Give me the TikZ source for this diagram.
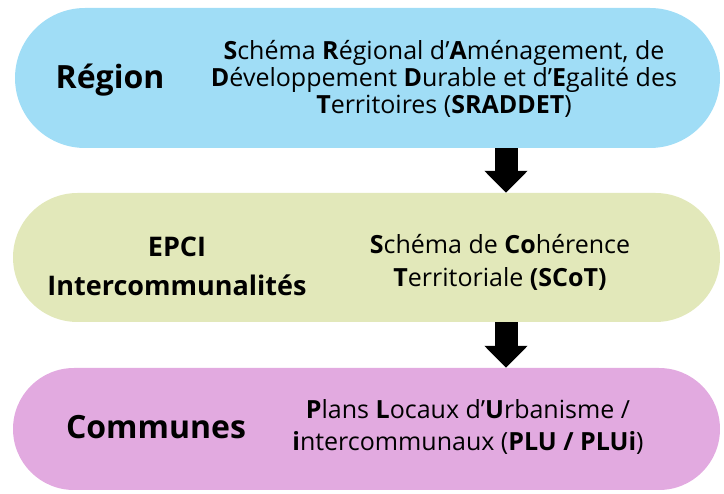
\documentclass[tikz,border=0pt]{standalone}
\usepackage{fontspec}
\setmainfont{Open Sans}
\usetikzlibrary{shapes.misc, arrows.meta}
\definecolor{regionblue}{RGB}{160,221,246}
\definecolor{epcigreen}{RGB}{226,232,186}
\definecolor{communespink}{RGB}{226,170,224}
\tikzstyle{level} = [rounded rectangle, minimum width=707pt, inner sep=0pt]
\tikzstyle{actor} = [font=\bfseries\fontsize{32}{36}\selectfont, align=center]
\tikzstyle{plan} = [font=\fontsize{25}{27}\selectfont, align=center]
\tikzstyle{arrow} = [line width=23pt, -{Triangle[width=42pt,length=22pt]}]

\begin{document}
\begin{tikzpicture}[x=1pt, y=-1pt]
    \useasboundingbox (0,0) rectangle (724,494);
    % Levels
    \node (regionbox) [level, fill=regionblue, minimum height=140pt, minimum width=705pt] at (367.5,78) {};
    \node (epcibox) [level, fill=epcigreen, minimum height=129pt] at (366.5,257.5) {};
    \node (communesbox) [level, fill=communespink, minimum height=122pt] at (366.5,429) {};

    % Labels
    \node (region) [actor] at (110,80) {Région};
    \node (regionplan) [plan] at (444,79) {\textbf{S}chéma \textbf{R}égional d’\textbf{A}ménagement, de\\\textbf{D}éveloppement \textbf{D}urable et d’\textbf{E}galité des\\\textbf{T}erritoires (\textbf{SRADDET})};
    \node (epci) [actor, font=\bfseries\fontsize{27}{39}\selectfont] at (177,266) {EPCI\\Intercommunalités};
    \node (epciplan) [plan, font=\fontsize{25}{33}\selectfont] at (500,262) {\textbf{S}chéma de \textbf{Co}hérence\\\textbf{T}erritoriale \textbf{(SCoT)}};
    \node (communes) [actor] at (156,427) {Communes};
    \node (communesplan) [plan, font=\fontsize{25}{32}\selectfont] at (468,427) {\textbf{P}lans \textbf{L}ocaux d’\textbf{U}rbanisme /\\\textbf{i}ntercommunaux (\textbf{PLU / PLUi})};

    % Arrows
    \coordinate (axis) at (506,0);
    \draw [arrow] (axis |- regionbox.south) -- (axis |- epcibox.north);
    \draw [arrow] (axis |- epcibox.south) -- (axis |- communesbox.north);
\end{tikzpicture}
\end{document}
